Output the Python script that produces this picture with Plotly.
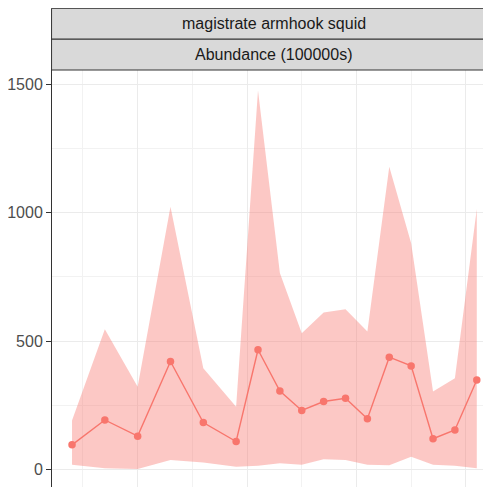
import plotly.graph_objects as go

years = [1974, 1977, 1980, 1983, 1986, 1989, 1991, 1993, 1995, 1997, 1999,
         2001, 2003, 2005, 2007, 2009, 2011]
abundance = [95, 192, 129, 420, 182, 108, 466, 305, 229, 264, 277,
             197, 437, 403, 119, 153, 348]
upper = [190, 546, 322, 1024, 394, 244, 1477, 765, 530, 611, 624,
         537, 1180, 881, 303, 355, 1015]
lower = [17, 4, 1, 36, 26, 10, 13, 23, 17, 39, 36,
         17, 15, 49, 17, 13, 4]

strip_top = "magistrate armhook squid"
strip_bottom = "Abundance (100000s)"
y_ticks = [0, 500, 1000, 1500]

red = "#F8766D"
font_family = "Liberation Sans, Arial, sans-serif"

fig = go.Figure()
fig.add_trace(go.Scatter(x=years, y=lower, mode="lines", line=dict(width=0),
                         hoverinfo="skip", showlegend=False))
fig.add_trace(go.Scatter(x=years, y=upper, mode="lines", line=dict(width=0),
                         fill="tonexty", fillcolor="rgba(248,118,109,0.4)",
                         hoverinfo="skip", showlegend=False))
fig.add_trace(go.Scatter(x=years, y=abundance, mode="lines+markers",
                         line=dict(color=red, width=1.4),
                         marker=dict(color=red, size=7.5),
                         showlegend=False))

# page has an 8px body offset; compensate in margins
L, T = 44, 62
H_PLOT = 487 - T
W_PLOT = 491 - L
fig.update_layout(
    width=491, height=487,
    margin=dict(l=L, r=0, t=T, b=0, pad=0),
    paper_bgcolor="white", plot_bgcolor="white",
    font=dict(family=font_family),
    xaxis=dict(range=[1972.17, 2013.03], showticklabels=False, ticks="",
               tick0=1980, dtick=10, showgrid=True, gridcolor="#EBEBEB",
               gridwidth=1, zeroline=False, showline=False,
               minor=dict(dtick=5, tick0=1975, showgrid=True,
                          gridcolor="#F2F2F2", gridwidth=0.6)),
    yaxis=dict(range=[-100.6, 1557], tickvals=y_ticks,
               ticktext=[str(v) for v in y_ticks],
               ticks="outside", ticklen=5, tickwidth=1, tickcolor="#333333",
               tickfont=dict(size=16, color="#4D4D4D", family=font_family),
               showgrid=True, gridcolor="#EBEBEB", gridwidth=1,
               zeroline=False, showline=True, linecolor="#333333", linewidth=1,
               minor=dict(dtick=250, tick0=0, showgrid=True,
                          gridcolor="#F2F2F2", gridwidth=0.6)),
)

y_mid = 1 + 31 / H_PLOT
y_top = 1 + 61.7 / H_PLOT
for (ya, yb, label) in [(1.0, y_mid, strip_bottom), (y_mid, y_top, strip_top)]:
    fig.add_shape(type="rect", xref="paper", yref="paper",
                  x0=-0.001, x1=1.05, y0=ya, y1=yb,
                  fillcolor="#D9D9D9", line=dict(color="#333333", width=1),
                  layer="above")
    fig.add_annotation(text=label, xref="paper", yref="paper",
                       x=221.5 / W_PLOT, y=(ya + yb) / 2, showarrow=False,
                       xanchor="center", yanchor="middle",
                       font=dict(size=16, color="#1A1A1A", family=font_family))

fig.write_html("out.html")
